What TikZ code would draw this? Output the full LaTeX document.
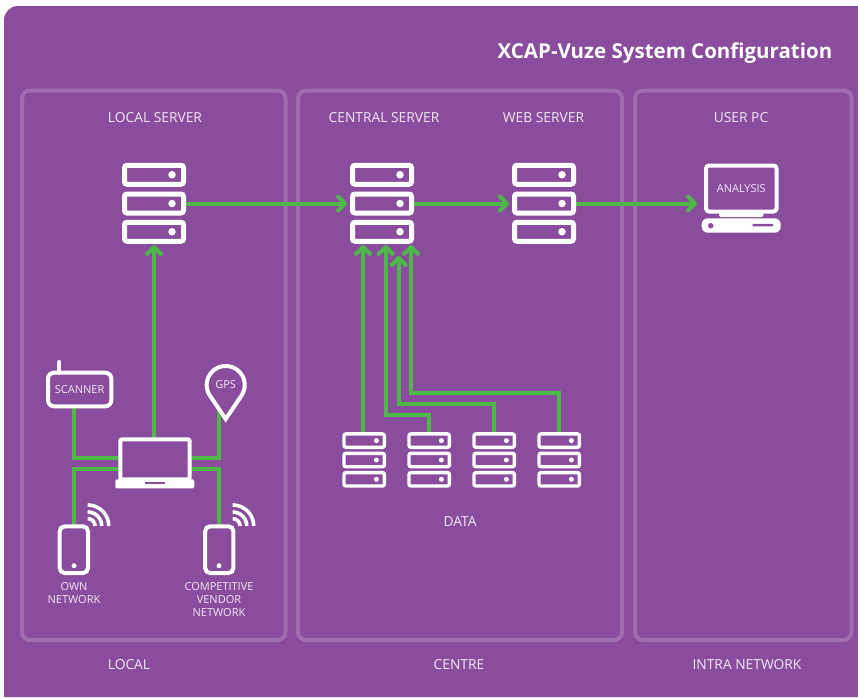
\documentclass[tikz,border=0pt]{standalone}
\usepackage{fontspec}
\setmainfont{Open Sans}
\usetikzlibrary{arrows.meta,calc}
\definecolor{bgpurple}{RGB}{138,76,156}
\definecolor{panelline}{RGB}{160,110,176}
\definecolor{flowgreen}{RGB}{77,184,72}
\definecolor{labeltext}{RGB}{243,232,245}
\pgfdeclarelayer{base}
\pgfdeclarelayer{flows}
\pgfsetlayers{base,flows,main}
\tikzset{
  panelbox/.style={draw=panelline,line width=4pt,rounded corners=8pt,inner sep=0pt},
  srvbig/.style={draw=white,line width=5pt,rounded corners=2.5pt,minimum width=59pt,minimum height=19pt,inner sep=0pt,outer sep=0pt},
  srvsmall/.style={draw=white,line width=3.4pt,rounded corners=2pt,minimum width=40.4pt,minimum height=13.4pt,inner sep=0pt,outer sep=0pt},
  dotbig/.style={fill=white,circle,minimum size=7.5pt,inner sep=0pt},
  dotsmall/.style={fill=white,circle,minimum size=5pt,inner sep=0pt},
  iconbox/.style={draw=white,line width=4pt,inner sep=0pt,outer sep=0pt},
  flow/.style={draw=flowgreen,line width=4pt},
  flowtip/.style={flow,-{Straight Barb[length=7pt,width=14pt,line width=4pt,round]}},
  lab/.style={text=labeltext,font=\fontsize{13.8}{16}\selectfont,inner sep=0pt,align=center},
  labsmall/.style={text=labeltext,font=\fontsize{11}{13}\selectfont,inner sep=0pt,align=center},
  labicon/.style={text=labeltext,font=\fontsize{11}{13}\selectfont,inner sep=0pt},
  wifi/.style={draw=white,line width=3.6pt},
}
\begin{document}
\begin{tikzpicture}[x=1pt,y=-1pt]
\useasboundingbox (0,0) rectangle (858,697);
\begin{pgfonlayer}{base}
\fill[white] (0,0) rectangle (858,697);
\fill[bgpurple,rounded corners=0pt] (4,697) -- (4,20) to[out=90,in=180] (18,6) -- (858,6) -- (858,697) -- cycle;
\node[panelbox,minimum width=263.5pt,minimum height=549.5pt] (plocal) at (153.75,365.25) {};
\node[panelbox,minimum width=324pt,minimum height=549.5pt] (pcentre) at (460,365.25) {};
\node[panelbox,minimum width=216.5pt,minimum height=549.5pt] (pintra) at (743.25,365.25) {};
\end{pgfonlayer}
\node[text=white,font=\bfseries\fontsize{20.5}{24}\selectfont,anchor=east,inner sep=0pt] (title) at (832.5,53) {XCAP-Vuze System Configuration};
% panel headings
\node[lab] (tlocal) at (155,118) {LOCAL SERVER};
\node[lab] (tcentral) at (384,118) {CENTRAL SERVER};
\node[lab] (tweb) at (543.5,118) {WEB SERVER};
\node[lab] (tuser) at (741,118) {USER PC};
\node[lab] (tdata) at (460,522) {DATA};
\node[lab] (tl) at (129,665) {LOCAL};
\node[lab] (tc) at (459,665) {CENTRE};
\node[lab] (ti) at (747,665) {INTRA NETWORK};
% servers
\foreach \n/\cx in {ls/154,cs/382,ws/544}{
  \node[srvbig] (\n1) at (\cx,174.75) {};
  \node[srvbig] (\n2) at (\cx,203.5) {};
  \node[srvbig] (\n3) at (\cx,231.75) {};
  \node[dotbig] (\n d1) at (\cx+18,174.75) {};
  \node[dotbig] (\n d2) at (\cx+18,203.5) {};
  \node[dotbig] (\n d3) at (\cx+18,231.75) {};
}
\foreach \n/\cx in {da/364.2,db/429.2,dc/494.2,dd/559.2}{
  \node[srvsmall] (\n1) at (\cx,440.6) {};
  \node[srvsmall] (\n2) at (\cx,460) {};
  \node[srvsmall] (\n3) at (\cx,479.3) {};
  \node[dotsmall] (\n d1) at (\cx+12.2,440.6) {};
  \node[dotsmall] (\n d2) at (\cx+12.2,460) {};
  \node[dotsmall] (\n d3) at (\cx+12.2,479.3) {};
}
% user PC
\node[iconbox,rounded corners=3pt,minimum width=70.5pt,minimum height=46pt,text=labeltext,font=\fontsize{11}{13}\selectfont] (pc) at (741.25,188.5) {ANALYSIS};
\fill[white,rounded corners=1.5pt] (719,212) rectangle (763.3,217);
\node[fill=white,rounded corners=6pt,minimum width=79pt,minimum height=14.4pt,inner sep=0pt,outer sep=0pt] (pcbase) at (741.2,225.5) {};
\node[fill=bgpurple,circle,minimum size=5.4pt,inner sep=0pt] (pchole) at (710.7,225.7) {};
\node[fill=bgpurple,rounded corners=1pt,minimum width=21pt,minimum height=2.5pt,inner sep=0pt] (pcslot) at (762.8,225.2) {};
% laptop
\node[iconbox,rounded corners=2pt,minimum width=69.4pt,minimum height=40pt] (lap) at (155,459.3) {};
\node[fill=white,rounded corners=1.5pt,minimum width=79pt,minimum height=9pt,inner sep=0pt,outer sep=0pt] (lapbase) at (154.8,483.8) {};
\node[fill=bgpurple,minimum width=20pt,minimum height=2pt,inner sep=0pt] (lapslot) at (155,482.8) {};
% scanner
\node[iconbox,rounded corners=6pt,minimum width=63.3pt,minimum height=33.6pt,text=labeltext,font=\fontsize{11}{13}\selectfont] (scan) at (79.65,389.5) {SCANNER};
\coordinate (anttop) at (59.3,362);
\draw[white,line width=4pt,line cap=round] (anttop) -- (anttop |- scan.north);
% GPS
\draw[white,line width=4pt,fill=bgpurple,line join=miter,miter limit=10] (225.7,419) -- plot[domain=124:-124,samples=50] ({225.7+19*sin(\x)},{385-19*cos(\x)}) -- cycle;
\node[labicon] (gps) at (225.7,385) {GPS};
\coordinate (gpsfoot) at (218.7,411);
% phones
\node[iconbox,rounded corners=5pt,minimum width=28.3pt,minimum height=46.7pt] (ph1) at (73.85,549.65) {};
\node[iconbox,rounded corners=5pt,minimum width=28.3pt,minimum height=46.7pt] (ph2) at (219.3,549.65) {};
\node[dotsmall] (ph1d) at (74,565.7) {};
\node[dotsmall] (ph2d) at (219,565.7) {};
\foreach \cx in {87.7,232.7}\foreach \r in {7.3,14,21}{
  \draw[wifi] plot[domain=0:90,samples=24] ({\cx+\r*sin(\x)},{526-\r*cos(\x)});
}
\node[labsmall] (town) at (74,593.5) {OWN\\NETWORK};
\node[labsmall] (tcomp) at (219,600) {COMPETITIVE\\VENDOR\\NETWORK};
% connectors
\begin{pgfonlayer}{flows}
\draw[flowtip] (ls2.east) -- ($(cs2.west)+(-5.5,0)$);
\draw[flowtip] (cs2.east) -- ($(ws2.west)+(-5.5,0)$);
\draw[flowtip] (ws2.east) -- ($(pc.west |- ws2.east)+(-9,0)$);
\draw[flowtip] (lap.north -| ls3.south) -- ($(ls3.south)+(0,3.75)$);
% data servers to central server
\coordinate (ci1) at (363,245);
\coordinate (ci2) at (385.7,245);
\coordinate (ci3) at (398.7,256);
\coordinate (ci4) at (411,245);
\draw[flowtip] (ci1 |- da1.north) -- (ci1);
\draw[flowtip] (db1.north) |- (ci2 |- 0,415) -- (ci2);
\draw[flowtip] (dc1.north) |- (ci3 |- 0,404) -- (ci3);
\draw[flowtip] (dd1.north) |- (ci4 |- 0,392.7) -- (ci4);
% devices to laptop
\draw[flow] (scan.south -| ph1.north) |- (lap.west |- 0,458);
\draw[flow] (ph1.north) |- (lap.west |- 0,469.3);
\draw[flow] (gpsfoot) |- (lap.east |- 0,458);
\draw[flow] (ph2.north -| gpsfoot) |- (lap.east |- 0,469.3);
\end{pgfonlayer}
\end{tikzpicture}
\end{document}
